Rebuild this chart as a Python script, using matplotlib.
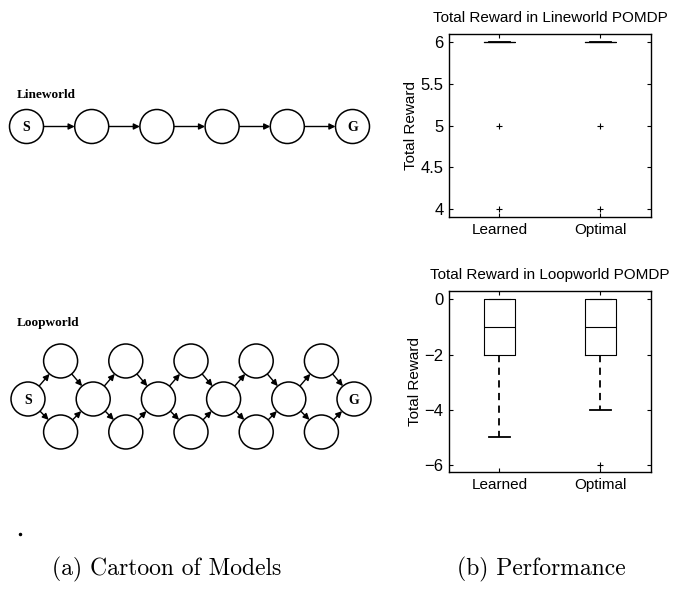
import numpy as np
import matplotlib
matplotlib.use("Agg")
import matplotlib.pyplot as plt
from matplotlib.patches import Circle

# ---- data ----
labels = ["Learned", "Optimal"]

# Lineworld: every run lands on 6 except a few at 5 and 4
line_med = [6, 6]
line_q1 = [6, 6]
line_q3 = [6, 6]
line_whislo = [6, 6]
line_whishi = [6, 6]
line_fliers = [[5, 4], [5, 4]]

# Loopworld
loop_med = [-1, -1]
loop_q1 = [-2, -2]
loop_q3 = [0, 0]
loop_whislo = [-5, -4]
loop_whishi = [0, 0]
loop_fliers = [[], [-6]]

line_yticks = [4, 4.5, 5, 5.5, 6]
line_yticklabels = ["4", "4.5", "5", "5.5", "6"]
loop_yticks = [-6, -4, -2, 0]


def make_stats(med, q1, q3, lo, hi, fl):
    return [dict(med=med[i], q1=q1[i], q3=q3[i], whislo=lo[i], whishi=hi[i],
                 fliers=fl[i], label=labels[i]) for i in range(len(labels))]


W, H = 673, 594
fig = plt.figure(figsize=(W / 100, H / 100), dpi=100)

# ---- left: state diagrams drawn on a pixel-unit canvas ----
canvas = fig.add_axes([0, 0, 1, 1])
canvas.set_xlim(0, W)
canvas.set_ylim(H, 0)
canvas.axis("off")

R = 17
STEP = 65.2
X0 = 26.5


def node(x, y, txt=None):
    canvas.add_patch(Circle((x, y), R, facecolor="white", edgecolor="black", lw=1.1, zorder=2))
    if txt:
        canvas.text(x, y + 1, txt, ha="center", va="center", fontsize=10,
                    fontweight="bold", family="Liberation Serif", zorder=3)


def arrow(a, b):
    a = np.array(a, float)
    b = np.array(b, float)
    u = (b - a) / np.linalg.norm(b - a)
    canvas.annotate("", xy=b - R * u, xytext=a + R * u,
                    arrowprops=dict(arrowstyle="-|>", lw=1.0, color="black",
                                    mutation_scale=9, shrinkA=0, shrinkB=0), zorder=1)


serif_lbl = dict(fontsize=9.5, fontweight="bold", family="Liberation Serif", va="center")

# Lineworld chain
canvas.text(17, 95, "Lineworld", **serif_lbl)
ly = 126.5
line_nodes = [(X0 + STEP * k, ly) for k in range(6)]
for k, p in enumerate(line_nodes):
    node(*p, "S" if k == 0 else ("G" if k == 5 else None))
for p, q in zip(line_nodes[:-1], line_nodes[1:]):
    arrow(p, q)

# Loopworld: a chain of diamonds
canvas.text(17, 323, "Loopworld", **serif_lbl)
my, ty, by = 399, 361, 432
mids = [(X0 + 1.5 + STEP * k, my) for k in range(6)]
tops = [(X0 + 1.5 + STEP * (k + 0.5), ty) for k in range(5)]
bots = [(X0 + 1.5 + STEP * (k + 0.5), by) for k in range(5)]
for k, p in enumerate(mids):
    node(*p, "S" if k == 0 else ("G" if k == 5 else None))
for p in tops + bots:
    node(*p)
for k in range(5):
    arrow(mids[k], tops[k])
    arrow(mids[k], bots[k])
    arrow(tops[k], mids[k + 1])
    arrow(bots[k], mids[k + 1])

canvas.plot([20], [534], marker="o", ms=1.5, color="black")

# captions
cap = dict(fontsize=17, family="cmr10", ha="center", va="center")
canvas.text(167, 569, "(a) Cartoon of Models", **cap)
canvas.text(541, 569, "(b) Performance", **cap)

# ---- right: box plots ----
plt.rcParams["font.family"] = ["Liberation Sans", "DejaVu Sans"]

box_kw = dict(
    positions=[1, 2], widths=0.3, capwidths=0.21,
    boxprops=dict(color="black", lw=0.8),
    medianprops=dict(color="black", lw=0.8),
    whiskerprops=dict(color="black", lw=1.3, linestyle=(0, (4, 3))),
    capprops=dict(color="black", lw=1.3),
    flierprops=dict(marker="+", markeredgecolor="black", markersize=5, markeredgewidth=0.8),
)


def style(ax, parts, title, ylim, yticks, yticklabels=None):
    # upper caps sit on the box edge, keep them thin
    for c in parts["caps"][1::2]:
        c.set_linewidth(0.8)
    ax.set_xlim(0.5, 2.5)
    ax.set_ylim(*ylim)
    ax.set_yticks(yticks)
    if yticklabels:
        ax.set_yticklabels(yticklabels)
    ax.set_xticks([1, 2])
    ax.set_xticklabels(labels)
    ax.tick_params(direction="in", top=True, right=True, length=3, width=0.8,
                   labelsize=11, pad=4)
    ax.tick_params(axis="y", labelsize=12)
    ax.set_title(title, fontsize=11, pad=9)
    ax.set_ylabel("Total Reward", fontsize=11, labelpad=2)
    for s in ax.spines.values():
        s.set_linewidth(1.0)


ax1 = fig.add_axes([449 / W, 1 - 217 / H, 202 / W, 183 / H])
p1 = ax1.bxp(make_stats(line_med, line_q1, line_q3, line_whislo, line_whishi, line_fliers), **box_kw)
style(ax1, p1, "Total Reward in Lineworld POMDP", (3.9, 6.1), line_yticks, line_yticklabels)

ax2 = fig.add_axes([449 / W, 1 - 472 / H, 202 / W, 181 / H])
p2 = ax2.bxp(make_stats(loop_med, loop_q1, loop_q3, loop_whislo, loop_whishi, loop_fliers), **box_kw)
style(ax2, p2, "Total Reward in Loopworld POMDP", (-6.25, 0.3), loop_yticks)

fig.savefig("out.png", dpi=100)
